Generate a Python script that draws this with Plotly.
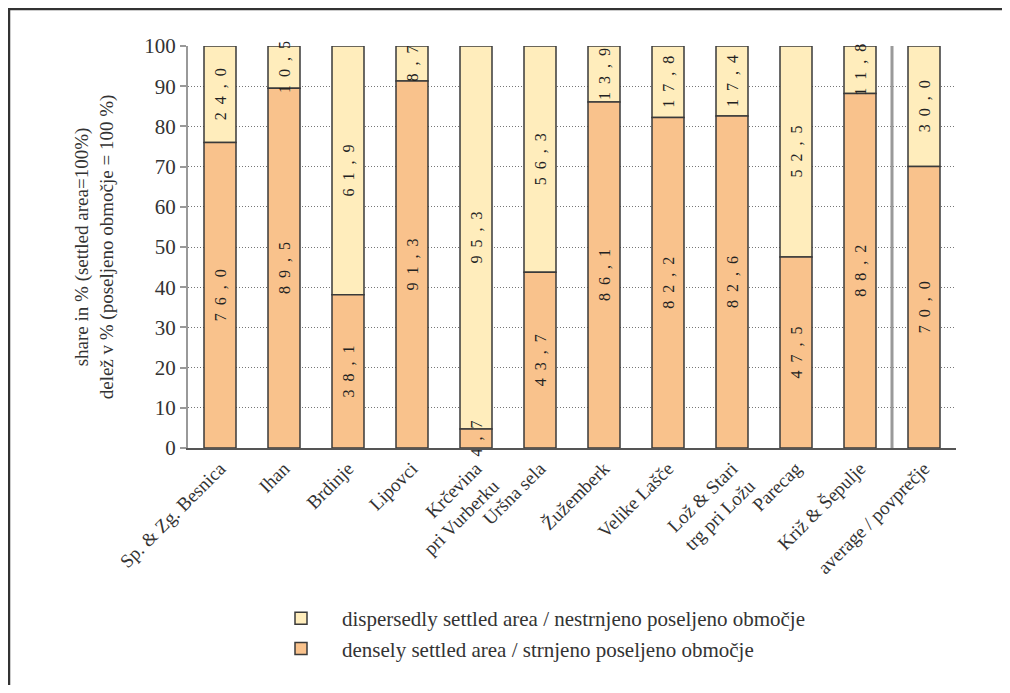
import plotly.graph_objects as go

categories = [
    "Sp. & Zg. Besnica", "Ihan", "Brdinje", "Lipovci",
    "Krčevina<br>pri Vurberku", "Uršna sela", "Žužemberk", "Velike Lašče",
    "Lož & Stari<br>trg pri Ložu", "Parecag", "Križ & Šepulje", "average / povprečje",
]
dense = [76.0, 89.5, 38.1, 91.3, 4.7, 43.7, 86.1, 82.2, 82.6, 47.5, 88.2, 70.0]
dispersed = [24.0, 10.5, 61.9, 8.7, 95.3, 56.3, 13.9, 17.8, 17.4, 52.5, 11.8, 30.0]
y_ticks = [0, 10, 20, 30, 40, 50, 60, 70, 80, 90, 100]

name_dispersed = "dispersedly settled area / nestrnjeno poseljeno območje"
name_dense = "densely settled area / strnjeno poseljeno območje"
y_title = "share in % (settled area=100%)<br>delež v % (poseljeno območje = 100 %)"

FONT = "Liberation Serif, Times New Roman, serif"
C_DENSE = "#F9C28C"
C_DISP = "#FFEDBC"
OUTLINE = "#3a3a3a"
SP = "\u00a0\u00a0"


def fmt(v):
    s = f"{v:.1f}".replace(".", ",")
    return SP.join(s)


fig = go.Figure()
# coloured segments (dispersed part sits on top of the dense part)
fig.add_trace(go.Bar(
    x=categories, y=dispersed, base=dense, name=name_dispersed,
    marker=dict(color=C_DISP, line=dict(color=OUTLINE, width=1.5)),
    width=0.5, hoverinfo="x+y",
))
fig.add_trace(go.Bar(
    x=categories, y=dense, name=name_dense,
    marker=dict(color=C_DENSE, line=dict(color=OUTLINE, width=1.5)),
    width=0.5, hoverinfo="x+y",
))
# value labels drawn above all segments
for vals, base in ((dispersed, dense), (dense, None)):
    fig.add_trace(go.Bar(
        x=categories, y=vals, base=base, showlegend=False, hoverinfo="skip",
        marker=dict(color="rgba(0,0,0,0)", line=dict(width=0)),
        text=[fmt(v) for v in vals], textposition="inside", insidetextanchor="middle",
        textangle=-90, constraintext="none", cliponaxis=False,
        textfont=dict(family=FONT, size=16, color="#222"),
        width=0.5,
    ))

n = len(categories)
fig.add_shape(type="line", xref="x", yref="y", x0=n - 1.5, x1=n - 1.5, y0=0, y1=100,
              line=dict(color="#9a9a9a", width=3))

# page has an 8px body margin; screen coordinates below are converted to figure ones
OFF = 8
W, H = 994, 677
L, R, T, B = 188 - OFF, W - (956 - OFF), 46 - OFF, H - (448 - OFF)
pw, ph = W - L - R, H - T - B


def px(xs):
    return (xs - OFF - L) / pw


def py(ys):
    return (H - B - (ys - OFF)) / ph


fig.add_shape(type="line", xref="paper", yref="paper", x0=px(8), x1=px(1003), y0=py(9), y1=py(9),
              line=dict(color="#333", width=2.5))
fig.add_shape(type="line", xref="paper", yref="paper", x0=px(9), x1=px(9), y0=py(8), y1=py(700),
              line=dict(color="#333", width=2.5))

fig.update_layout(
    width=W, height=H,
    margin=dict(l=L, r=R, t=T, b=B, autoexpand=False),
    barmode="overlay",
    plot_bgcolor="white", paper_bgcolor="white",
    font=dict(family=FONT, color="#333", size=18),
    showlegend=True,
    legend=dict(
        x=px(260), y=py(598), xanchor="left", yanchor="top",
        traceorder="normal", itemwidth=72,
        font=dict(family=FONT, size=21, color="#333"),
        bgcolor="rgba(0,0,0,0)", itemclick=False,
    ),
    xaxis=dict(
        range=[-0.5, n - 0.5], tickangle=-45, showgrid=False,
        showline=True, linecolor="#555", linewidth=2, ticks="",
        tickfont=dict(family=FONT, size=19, color="#333"),
    ),
    yaxis=dict(
        range=[0, 100], tickvals=y_ticks, showgrid=True, griddash="1px,2px",
        gridcolor="#777", gridwidth=1, zeroline=False,
        showline=True, linecolor="#999", linewidth=2,
        ticks="outside", ticklen=6, tickcolor="#999", tickwidth=1.5,
        tickfont=dict(family=FONT, size=21, color="#333"),
        title=dict(text=y_title, font=dict(family=FONT, size=19, color="#333"), standoff=26),
    ),
)

fig.write_html("out.html", config={"displayModeBar": False})
